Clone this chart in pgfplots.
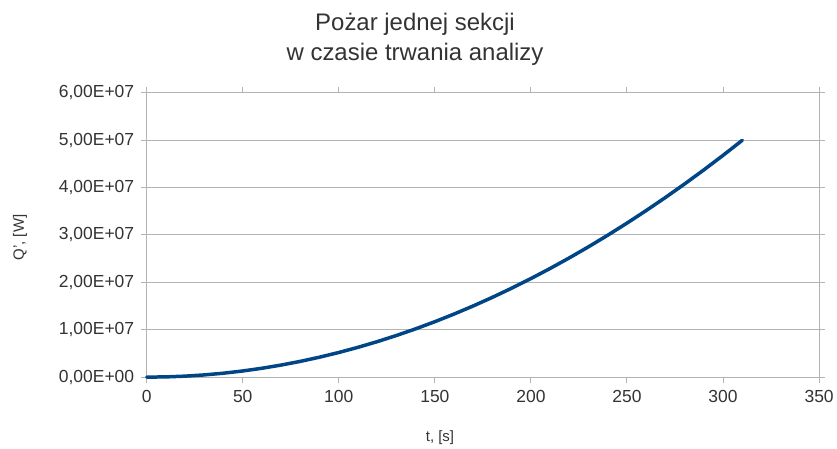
\documentclass[border=0pt]{standalone}
\usepackage{pgfplots}
\pgfplotsset{compat=1.18}
\usepackage{fontspec}
\setmainfont{Liberation Sans}
\definecolor{linecol}{HTML}{004586}
\definecolor{framecol}{HTML}{B3B3B3}
\definecolor{txtcol}{HTML}{333333}
\begin{document}
\begin{tikzpicture}[x=1pt,y=1pt]
\path (0,0) rectangle (837,448);
\begin{axis}[
  at={(147pt,70pt)}, anchor=south west,
  scale only axis, width=674pt, height=285pt,
  xmin=0, xmax=350, ymin=0, ymax=6e7,
  xtick={0,50,...,350},
  ytick={0,1e7,2e7,3e7,4e7,5e7,6e7},
  yticklabels={{0,00E+00},{1,00E+07},{2,00E+07},{3,00E+07},{4,00E+07},{5,00E+07},{6,00E+07}},
  scaled y ticks=false,
  /pgf/number format/assume math mode=true,
  tick label style={font=\fontsize{17.5}{20}\selectfont, text=txtcol},
  axis line style={framecol, line width=1pt},
  tick style={framecol, line width=1pt},
  tick align=outside, major tick length=6pt,
  ymajorgrids, grid style={framecol, line width=1pt},
  xticklabel style={yshift=-4pt},
  yticklabel style={xshift=-3pt},
  clip=false,
]
\addplot[linecol, line width=3.5pt, line join=round, line cap=round] coordinates {
(0,0) (10,52000) (20,208000) (30,468000) (40,832000) (50,1300000)
(60,1872000) (70,2548000) (80,3328000) (90,4212000) (100,5200000)
(110,6292000) (120,7488000) (130,8788000) (140,10192000) (150,11700000)
(160,13312000) (170,15028000) (180,16848000) (190,18772000) (200,20800000)
(210,22932000) (220,25168000) (230,27508000) (240,29952000) (250,32500000)
(260,35152000) (270,37908000) (280,40768000) (290,43732000) (300,46800000)
(310,49972000)
};
\end{axis}
\node[anchor=base, text=txtcol, font=\fontsize{24}{28}\selectfont] at (416,417) {Pożar jednej sekcji};
\node[anchor=base, text=txtcol, font=\fontsize{24}{28}\selectfont] at (416,387) {w czasie trwania analizy};
\node[anchor=base, text=txtcol, font=\fontsize{15}{18}\selectfont] at (441,5) {t, [s]};
\node[rotate=90, text=txtcol, font=\fontsize{15}{18}\selectfont] at (20,210) {Q', [W]};
\end{tikzpicture}
\end{document}
